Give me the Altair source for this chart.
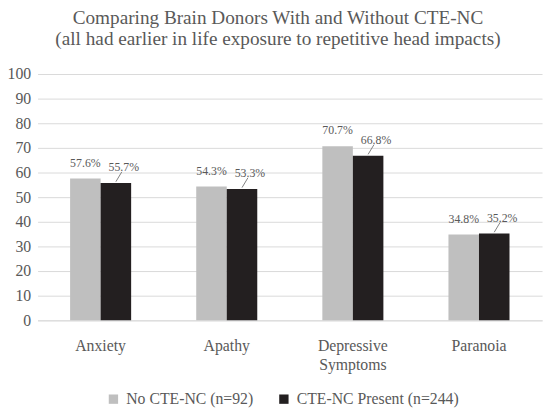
import altair as alt
import pandas as pd

categories = ["Anxiety", "Apathy", "Depressive Symptoms", "Paranoia"]
no_cte_nc = [57.6, 54.3, 70.7, 34.8]
cte_nc_present = [55.7, 53.3, 66.8, 35.2]
series_names = ["No CTE-NC (n=92)", "CTE-NC Present (n=244)"]
series_colors = ["#bfbfbf", "#231f20"]
title_lines = [
    "Comparing Brain Donors With and Without CTE-NC",
    "(all had earlier in life exposure to repetitive head impacts)",
]
y_ticks = [0, 10, 20, 30, 40, 50, 60, 70, 80, 90, 100]

rows = []
for cat, a, b in zip(categories, no_cte_nc, cte_nc_present):
    rows.append({"category": cat, "series": series_names[0], "value": a})
    rows.append({"category": cat, "series": series_names[1], "value": b})
df = pd.DataFrame(rows)

FONT = "Liberation Serif"
TXT = "#595959"
GRID = "#d9d9d9"

x = alt.X(
    "category:N",
    sort=categories,
    scale=alt.Scale(paddingInner=0.516, paddingOuter=0.258),
    axis=alt.Axis(
        title=None, labelAngle=0, labelFontSize=16, labelColor=TXT, labelFont=FONT,
        ticks=False, domainColor=GRID, labelPadding=18,
        labelExpr="split(datum.value, ' ')", labelLineHeight=19,
    ),
)
xo = alt.XOffset(
    "series:N", sort=series_names,
    scale=alt.Scale(paddingInner=0, paddingOuter=0),
)
y = alt.Y(
    "value:Q",
    scale=alt.Scale(domain=[0, 100], nice=False),
    axis=alt.Axis(
        title=None, values=y_ticks, domain=False, ticks=False, gridColor=GRID,
        labelFontSize=16, labelColor=TXT, labelFont=FONT, labelPadding=7,
    ),
)

base = alt.Chart(df).transform_calculate(
    label="format(datum.value, '.1f') + '%'"
)

bars = base.mark_bar().encode(
    x=x, xOffset=xo, y=y,
    color=alt.Color(
        "series:N",
        scale=alt.Scale(domain=series_names, range=series_colors),
        legend=alt.Legend(
            orient="none", legendX=69, legendY=322, direction="horizontal",
            title=None, symbolType="square", symbolSize=90, symbolStrokeWidth=0,
            labelFontSize=16, labelFont=FONT, labelColor=TXT, labelLimit=400,
            columnPadding=22, labelOffset=5,
        ),
    ),
)

text_gray = base.transform_filter(
    alt.datum.series == series_names[0]
).mark_text(
    font=FONT, fontSize=12, color=TXT, baseline="alphabetic", dy=-12
).encode(x=x, xOffset=xo, y=y, text="label:N")

text_black = base.transform_filter(
    alt.datum.series == series_names[1]
).mark_text(
    font=FONT, fontSize=12, color=TXT, baseline="alphabetic", dy=-12, dx=8
).encode(x=x, xOffset=xo, y=y, text="label:N")

leaders = base.transform_filter(
    alt.datum.series == series_names[1]
).mark_point(
    shape="M0,-0.12L0.5,-0.95", size=576, filled=False,
    stroke="#808080", strokeWidth=1, opacity=1,
).encode(x=x, xOffset=xo, y=y)

chart = alt.layer(bars, text_gray, text_black, leaders).properties(
    width=512,
    height=250,
    title=alt.TitleParams(
        text=title_lines, font=FONT, fontSize=19.5, color=TXT, fontWeight="normal",
        anchor="middle", dx=-12, offset=17, lineHeight=21,
    ),
    autosize=alt.AutoSizeParams(type="none"),
    padding={"left": 30, "top": 64, "right": 3, "bottom": 86},
).configure_view(stroke=None)

chart.save("out.html", embed_options={"renderer": "svg", "actions": False})
